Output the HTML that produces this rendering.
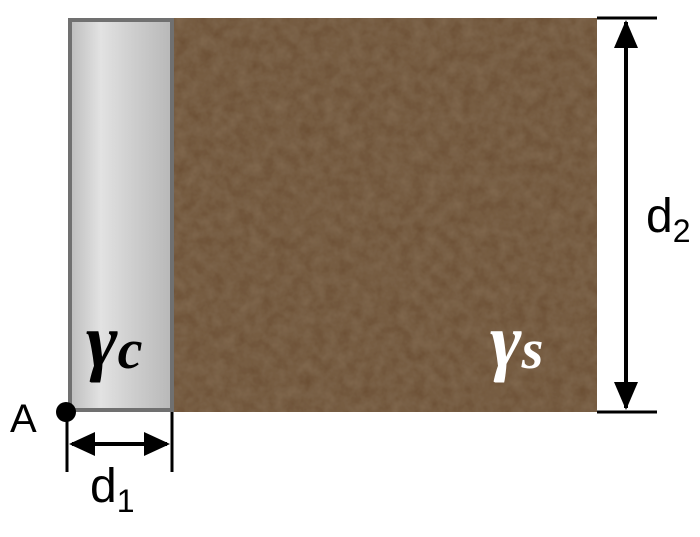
<!DOCTYPE html>
<html><head><meta charset="utf-8"><style>
html,body{margin:0;padding:0;background:#fff;width:700px;height:537px;overflow:hidden}
svg{display:block}
.sans{font-family:"Liberation Sans","DejaVu Sans",sans-serif}
.serif{font-family:"Liberation Serif","DejaVu Serif",serif;font-style:italic;font-weight:bold}
</style></head><body>
<svg width="700" height="537" viewBox="0 0 700 537">
<defs>
<filter id="soilNoise" x="0" y="0" width="100%" height="100%">
<feTurbulence type="fractalNoise" baseFrequency="0.08" numOctaves="3" seed="3" result="n"/>
<feColorMatrix in="n" type="matrix" values="0 0 0 0 0.40  0 0 0 0 0.30  0 0 0 0 0.19  0 0 0 0.3 0" result="c"/>
<feComposite in="c" in2="SourceGraphic" operator="atop"/>
</filter>
<linearGradient id="concGrad" x1="0" x2="1" y1="0" y2="0">
<stop offset="0" stop-color="#bdbdbd"/><stop offset="0.3" stop-color="#e2e2e2"/>
<stop offset="0.6" stop-color="#cfcfcf"/><stop offset="1" stop-color="#b8b8b8"/>
</linearGradient>
</defs>
<rect x="172" y="18" width="425" height="394" fill="#6a4d31" filter="url(#soilNoise)"/>
<rect x="70" y="20" width="102" height="390" fill="url(#concGrad)" stroke="#707070" stroke-width="4"/>
<text class="serif" x="86" y="366" font-size="76" fill="#000">γ<tspan font-size="56" dy="2">c</tspan></text>
<text class="serif" x="490" y="366" font-size="76" fill="#fff">γ<tspan font-size="56" dy="2">s</tspan></text>
<g stroke="#000" stroke-width="3">
<line x1="597" y1="18" x2="657" y2="18"/>
<line x1="597" y1="412" x2="657" y2="412"/>
<line x1="626" y1="22" x2="626" y2="408" stroke-width="4"/>
<path d="M626,20 L614,48 L638,48 z" fill="#000" stroke="none"/>
<path d="M626,410 L614,382 L638,382 z" fill="#000" stroke="none"/>
</g>
<text class="sans" x="646" y="232" font-size="48" fill="#000">d<tspan font-size="32" dy="10">2</tspan></text>
<g stroke="#000" stroke-width="3">
<line x1="67" y1="412" x2="67" y2="472"/>
<line x1="172" y1="412" x2="172" y2="472"/>
<line x1="72" y1="444" x2="167" y2="444" stroke-width="4"/>
<path d="M69,444 L95,432 L95,456 z" fill="#000" stroke="none"/>
<path d="M170,444 L144,432 L144,456 z" fill="#000" stroke="none"/>
</g>
<text class="sans" x="90" y="502" font-size="48" fill="#000">d<tspan font-size="32" dy="10">1</tspan></text>
<circle cx="66" cy="412" r="10" fill="#000"/>
<text class="sans" x="10" y="432" font-size="40" fill="#000">A</text>
</svg>
</body></html>
